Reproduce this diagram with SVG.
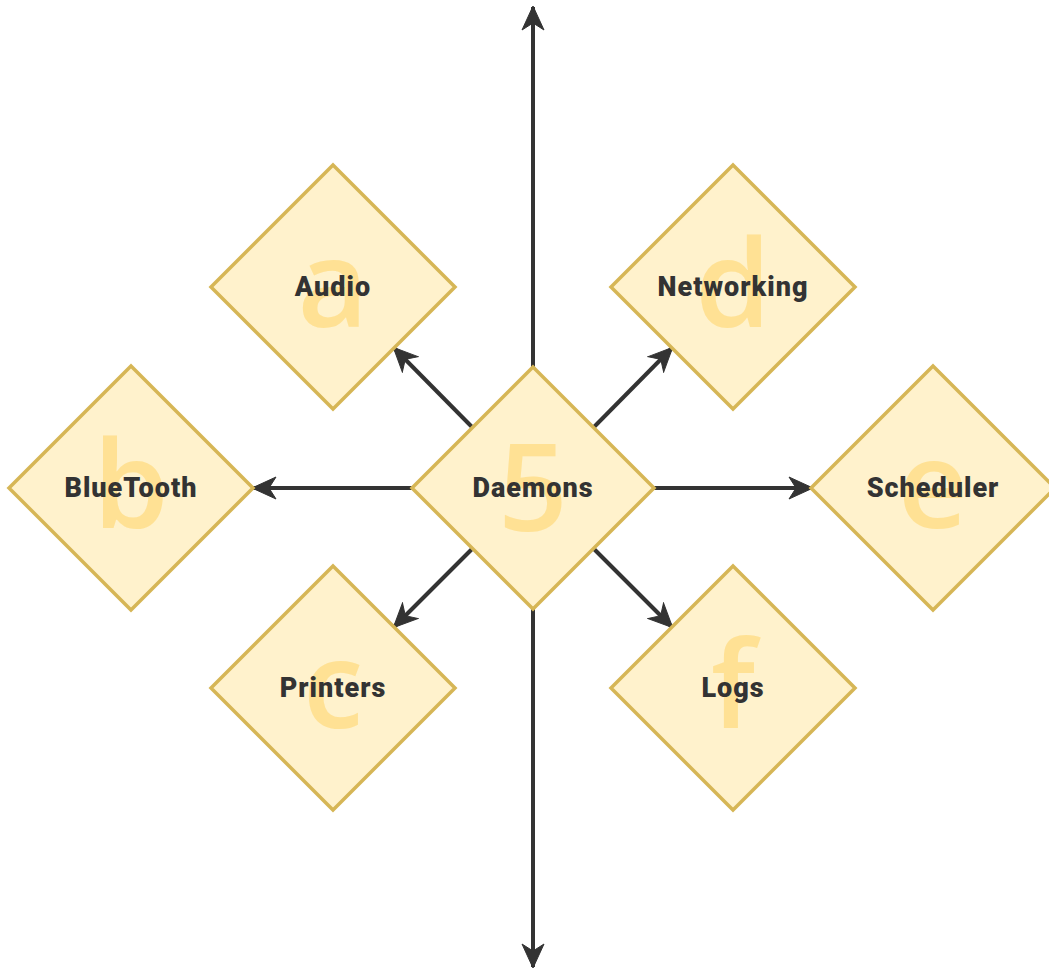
<svg xmlns="http://www.w3.org/2000/svg" width="1049" height="968" viewBox="0 0 1049 968">
  <style>
    .shape { fill: #fff2cc; stroke: #d6b656; stroke-width: 3.5; }
    .glyph { font-family: "Open Sans", "Noto Sans", sans-serif; font-weight: 600; font-size: 122px; fill: #ffe08f; opacity: 0.9; text-anchor: middle; }
    .label { font-family: Roboto, "Liberation Sans", sans-serif; font-weight: 900; font-size: 27px; letter-spacing: 1px; fill: #333333; text-anchor: middle; }
    .link { stroke: #333333; stroke-width: 4; fill: none; marker-end: url(#arrow); }
  </style>
  <defs>
    <marker id="arrow" markerUnits="userSpaceOnUse" viewBox="0 0 26 24" refX="24" refY="12" markerWidth="26" markerHeight="24" orient="auto">
      <path d="M1,1 L25,12 L1,23 L8,12 Z" fill="#333333" stroke="#333333" stroke-width="1" stroke-linejoin="miter"/>
    </marker>
  </defs>

  <rect width="1049" height="968" fill="#ffffff"/>

  <!-- connectors -->
  <g id="connectors">
    <line class="link" x1="533" y1="367" x2="533" y2="7"/>
    <line class="link" x1="533" y1="609" x2="533" y2="967"/>
    <line class="link" x1="413" y1="488" x2="253" y2="488"/>
    <line class="link" x1="653" y1="488" x2="812" y2="488"/>
    <line class="link" x1="473" y1="428" x2="394" y2="348"/>
    <line class="link" x1="593" y1="428" x2="672" y2="348"/>
    <line class="link" x1="473" y1="548" x2="394" y2="627"/>
    <line class="link" x1="593" y1="548" x2="672" y2="627"/>
  </g>

  <!-- nodes -->
  <g id="node-daemons">
    <polygon class="shape" points="533,367 654,488 533,609 412,488"/>
    <text class="glyph" x="533" y="531">5</text>
    <text class="label" x="533" y="497">Daemons</text>
  </g>
  <g id="node-audio">
    <polygon class="shape" points="333,165 455,287 333,409 211,287"/>
    <text class="glyph" x="333" y="327">a</text>
    <text class="label" x="333" y="296">Audio</text>
  </g>
  <g id="node-bluetooth">
    <polygon class="shape" points="131,366 253,488 131,610 9,488"/>
    <text class="glyph" x="131" y="528">b</text>
    <text class="label" x="131" y="497">BlueTooth</text>
  </g>
  <g id="node-printers">
    <polygon class="shape" points="333,566 455,688 333,810 211,688"/>
    <text class="glyph" x="333" y="728">c</text>
    <text class="label" x="333" y="697">Printers</text>
  </g>
  <g id="node-networking">
    <polygon class="shape" points="733,165 855,287 733,409 611,287"/>
    <text class="glyph" x="733" y="327">d</text>
    <text class="label" x="733" y="296">Networking</text>
  </g>
  <g id="node-scheduler">
    <polygon class="shape" points="933,366 1055,488 933,610 811,488"/>
    <text class="glyph" x="933" y="528">e</text>
    <text class="label" x="933" y="497">Scheduler</text>
  </g>
  <g id="node-logs">
    <polygon class="shape" points="733,566 855,688 733,810 611,688"/>
    <text class="glyph" x="733" y="728">f</text>
    <text class="label" x="733" y="697">Logs</text>
  </g>
</svg>
